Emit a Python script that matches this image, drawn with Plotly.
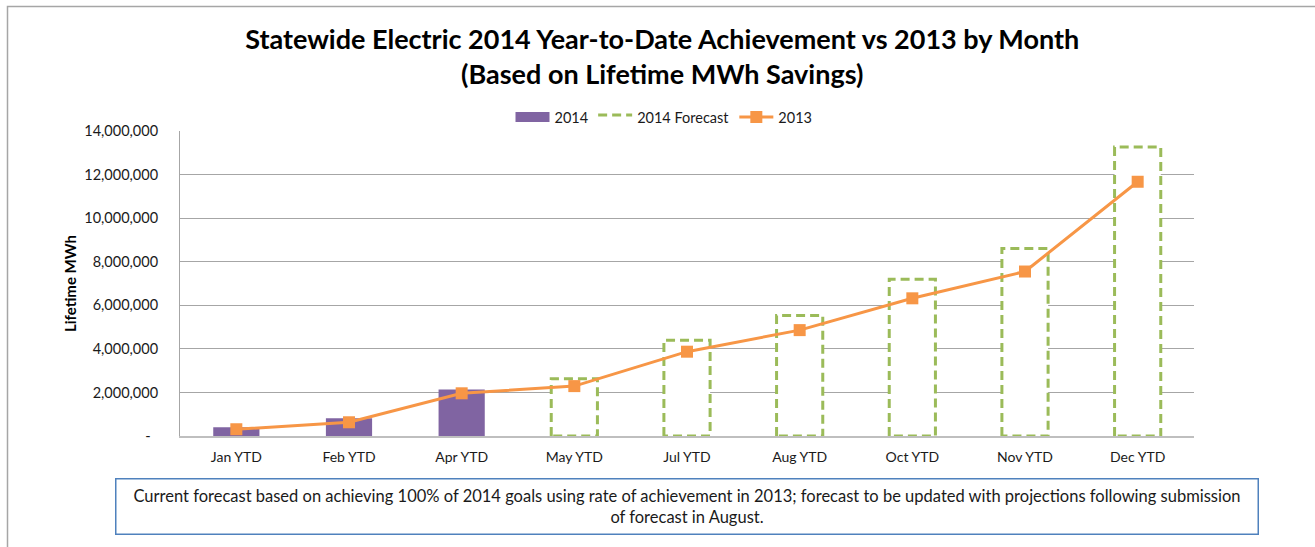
import plotly.graph_objects as go

categories = ["Jan YTD", "Feb YTD", "Apr YTD", "May YTD", "Jul YTD", "Aug YTD", "Oct YTD", "Nov YTD", "Dec YTD"]
actual_2014 = [400000, 810000, 2140000, None, None, None, None, None, None]
forecast_2014 = [None, None, None, 2630000, 4400000, 5530000, 7190000, 8610000, 13260000]
values_2013 = [310000, 630000, 1960000, 2290000, 3870000, 4860000, 6320000, 7550000, 11670000]
y_ticks = [0, 2000000, 4000000, 6000000, 8000000, 10000000, 12000000, 14000000]
y_ticktext = ["-\u00a0\u00a0"] + [f"{v:,}" for v in y_ticks[1:]]
note = ("Current forecast based on achieving 100% of 2014 goals using rate of achievement in 2013; "
        "forecast to be updated with projections following submission<br>of forecast in August.")

FONT = "Lato"
idx = list(range(len(categories)))
BAR_W = 0.41
half = BAR_W / 2

# forecast outline paths built from the data arrays
fx, fy = [], []
for i, v in zip(idx, forecast_2014):
    if v is None:
        continue
    fx += [i - half, i - half, i + half, i + half, i - half, None]
    fy += [0, v, v, 0, 0, None]

fig = go.Figure()
fig.add_trace(go.Bar(
    x=idx, y=actual_2014, name="2014", width=BAR_W, showlegend=False, legendgroup="a",
    marker=dict(color="#8064A2", line=dict(width=0)),
))
# legend swatch for the 2014 bars (wide rectangle like the original)
fig.add_trace(go.Scatter(
    x=[None], y=[None], name="2014", mode="lines", legendgroup="a",
    line=dict(color="#8064A2", width=10),
))
fig.add_trace(go.Scatter(
    x=fx, y=fy, name="2014 Forecast", mode="lines",
    fill="toself", fillcolor="white",
    line=dict(color="#9BBB59", width=3, dash="9px,5px"),
    connectgaps=False,
))
fig.add_trace(go.Scatter(
    x=idx, y=values_2013, name="2013", mode="lines+markers",
    line=dict(color="#F79646", width=3),
    marker=dict(symbol="square", size=12, color="#F79646"),
))

plot_l, plot_r, plot_t, plot_b = 180, 1194, 131, 436
W, H = 1315, 547
pw, ph = plot_r - plot_l, plot_b - plot_t

def px_x(x):
    return (x - plot_l) / pw

def px_y(y):
    return (plot_b - y) / ph

fig.update_layout(
    width=W, height=H,
    margin=dict(l=plot_l, r=W - plot_r, t=plot_t, b=H - plot_b, pad=0),
    paper_bgcolor="white", plot_bgcolor="white",
    font=dict(family=FONT, size=14, color="#1a1a1a"),
    title=dict(
        text="<b>Statewide Electric 2014 Year-to-Date Achievement vs 2013 by Month<br>(Based on Lifetime MWh Savings)</b>",
        x=0.5036, xanchor="center", xref="container",
        y=1 - 49 / H, yanchor="middle", yref="container",
        font=dict(family=FONT, size=27, color="#000000"),
    ),
    legend=dict(
        orientation="h", x=px_x(664), y=px_y(117), xanchor="center", yanchor="middle",
        font=dict(family=FONT, size=14.5, color="#1a1a1a"),
        bgcolor="rgba(0,0,0,0)", itemwidth=34, tracegroupgap=0,
    ),
    showlegend=True,
    xaxis=dict(
        range=[-0.5, len(categories) - 0.5],
        tickmode="array", tickvals=idx, ticktext=categories,
        showgrid=False, zeroline=False,
        showline=True, linecolor="#BFBFBF", linewidth=1.5,
        ticks="", ticklabelstandoff=7,
        tickfont=dict(family=FONT, size=14, color="#1a1a1a"),
        fixedrange=True,
    ),
    yaxis=dict(
        range=[0, 14000000],
        tickmode="array", tickvals=y_ticks, ticktext=y_ticktext,
        showgrid=True, gridcolor="#A6A6A6", gridwidth=1,
        zeroline=False,
        showline=True, linecolor="#A6A6A6", linewidth=1,
        ticks="", ticklabelstandoff=18,
        tickfont=dict(family=FONT, size=14.5, color="#1a1a1a"),
        fixedrange=True,
    ),
    shapes=[
        dict(type="rect", xref="paper", yref="paper",
             x0=px_x(7.5), x1=px_x(1400), y0=px_y(600), y1=px_y(6.5),
             line=dict(color="#A6A6A6", width=1.5), fillcolor="rgba(0,0,0,0)", layer="below"),
    ],
    annotations=[
        dict(text="<b>Lifetime MWh</b>", xref="paper", yref="paper",
             x=px_x(70), y=px_y(284), textangle=-90, showarrow=False,
             xanchor="center", yanchor="middle",
             font=dict(family=FONT, size=15, color="#000000")),
        dict(text=note, xref="paper", yref="paper",
             x=px_x(686.5), y=px_y(506), showarrow=False,
             xanchor="center", yanchor="middle", align="center",
             width=1141, height=54,
             bordercolor="#4F81BD", borderwidth=1.5, borderpad=0,
             bgcolor="white",
             font=dict(family=FONT, size=16.5, color="#1a1a1a")),
    ],
)

fig.write_html("out.html", config={"displayModeBar": False},
               post_script="document.body.style.margin='0';document.body.style.overflow='hidden';")
